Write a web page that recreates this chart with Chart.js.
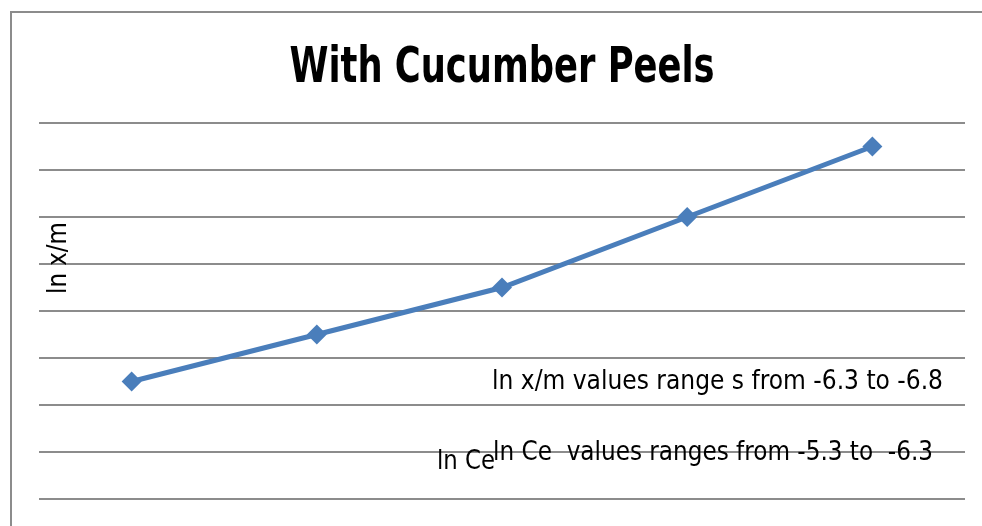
<!DOCTYPE html>
<html>
<head>
<meta charset="utf-8">
<script src="https://cdn.jsdelivr.net/npm/chart.js@4.4.1/dist/chart.umd.min.js"></script>
<style>
  html, body { margin: 0; padding: 0; background: #fff; }
  #wrap { width: 982px; height: 526px; }
</style>
</head>
<body>
<div id="wrap"><canvas id="peelChart" width="982" height="526"></canvas></div>
<script>
// data (y in gridline units, no tick labels shown)
const categories = ['1', '2', '3', '4', '5'];
const lnXm = [2.5, 3.5, 4.5, 6.0, 7.5];
const yTicks = { min: 0, max: 8, step: 1 };

const chartTitle = 'With Cucumber Peels';
const yTitle = 'ln x/m';
const xTitle = 'ln Ce';
const notes = [
    'ln x/m values range s from -6.3 to -6.8',
    'ln Ce  values ranges from -5.3 to  -6.3'
];

const narrow = '"Liberation Sans Narrow", "DejaVu Sans Condensed", "Liberation Sans", sans-serif';

// frame + texts drawn on the canvas (maxWidth squeezes to the narrow original font)
const decor = {
    id: 'decor',
    beforeDraw(chart) {
        const c = chart.ctx;
        c.save();
        c.strokeStyle = '#8c8c8c';
        c.lineWidth = 2;
        c.beginPath();
        c.moveTo(11, chart.height);
        c.lineTo(11, 12);
        c.lineTo(chart.width, 12);
        c.stroke();
        c.restore();
    },
    afterDraw(chart) {
        const c = chart.ctx;
        const a = chart.chartArea;
        c.save();
        c.fillStyle = '#000';
        c.textBaseline = 'alphabetic';

        // title
        c.font = 'bold 50px ' + narrow;
        c.textAlign = 'center';
        c.fillText(chartTitle, (a.left + a.right) / 2, 82, 425);

        // annotations
        c.textAlign = 'left';
        c.font = '27px ' + narrow;
        c.fillText(notes[0], 492, 389, 451);
        c.fillText(xTitle, 437, 469, 58);
        c.fillText(notes[1], 493, 460, 440);

        // y title, rotated
        c.translate(66, 258);
        c.rotate(-Math.PI / 2);
        c.textAlign = 'center';
        c.fillText(yTitle, 0, 0, 72);
        c.restore();
    }
};

const ctx = document.getElementById('peelChart').getContext('2d');
const peelChart = new Chart(ctx, {
    type: 'line',
    data: {
        labels: categories,
        datasets: [{
            label: 'ln x/m',
            data: lnXm,
            borderColor: '#4a7ebb',
            backgroundColor: '#4a7ebb',
            borderWidth: 5,
            pointStyle: 'rectRot',
            pointRadius: 10,
            pointBorderWidth: 0,
            tension: 0,
            fill: false
        }]
    },
    options: {
        responsive: false,
        animation: false,
        layout: { padding: { left: 39, right: 17, top: 123, bottom: 27 } },
        plugins: {
            legend: { display: false },
            title: { display: false },
            tooltip: { enabled: false }
        },
        scales: {
            x: {
                offset: true,
                display: false
            },
            y: {
                min: yTicks.min,
                max: yTicks.max,
                ticks: { display: false, stepSize: yTicks.step },
                border: { display: false },
                grid: { color: '#8c8c8c', lineWidth: 2, drawTicks: false }
            }
        }
    },
    plugins: [decor]
});
</script>
</body>
</html>
